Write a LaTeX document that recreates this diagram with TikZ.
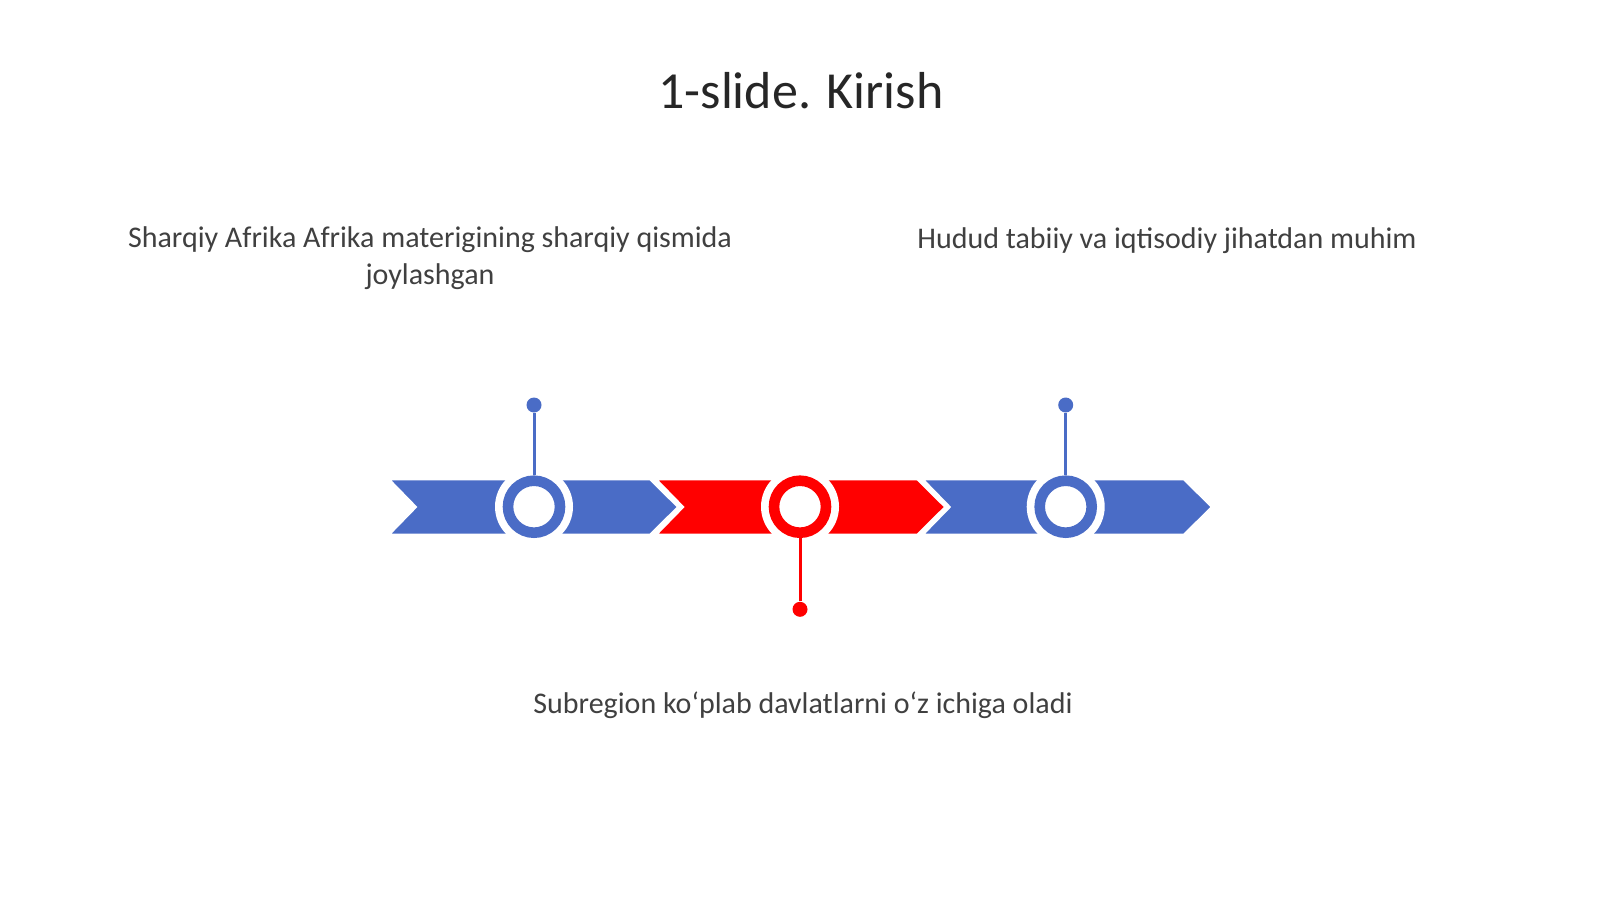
\documentclass[tikz,border=0pt]{standalone}
\usepackage{fontspec}
\setmainfont{Carlito}
\definecolor{tlblue}{RGB}{74,108,198}
\definecolor{tlred}{RGB}{255,0,0}
\definecolor{titlecol}{RGB}{38,38,38}
\definecolor{bodycol}{RGB}{64,64,64}
\begin{document}
\begin{tikzpicture}[x=0.5pt,y=-0.5pt,
  chev/.style={draw=white,line width=1pt},
  halo/.style={circle,fill=white,minimum size=39pt,inner sep=0pt},
  ring/.style={circle,fill=white,draw=#1,line width=5.3pt,minimum size=26pt,inner sep=0pt},
  dot/.style={circle,fill=#1,minimum size=7.5pt,inner sep=0pt},
  stem/.style={draw=#1,line width=1.5pt},
  body/.style={text=bodycol,font=\fontsize{15}{18.5}\selectfont,align=center}]
\useasboundingbox (0,0) rectangle (1600,899);
% chevrons
\foreach \x/\c in {389/tlblue,656.2/tlred,922.8/tlblue}{
  \filldraw[chev,fill=\c] (\x,479.3) -- ++(261,0) -- ++(28,27.7) -- ++(-28,27.7) -- ++(-261,0) -- ++(27,-27.7) -- cycle;
}
% halos and rings
\node[halo] (h1) at (534,506.7) {};
\node[halo] (h2) at (800,506.7) {};
\node[halo] (h3) at (1065.7,506.7) {};
\node[ring=tlblue] (r1) at (h1) {};
\node[ring=tlred] (r2) at (h2) {};
\node[ring=tlblue] (r3) at (h3) {};
% dots and stems
\node[dot=tlblue] (d1) at (534,405) {};
\node[dot=tlred] (d2) at (800,609.3) {};
\node[dot=tlblue] (d3) at (1065.7,405) {};
\draw[stem=tlblue] (d1) -- (r1.north);
\draw[stem=tlred] (d2) -- (r2.south);
\draw[stem=tlblue] (d3) -- (r3.north);
% texts
\node[text=titlecol,font=\fontsize{26}{31}\selectfont] (title) at (801,91) {1-slide. Kirish};
\node[body] (t1) at (430,258) {Sharqiy Afrika Afrika materigining sharqiy qismida\\joylashgan};
\node[body] (t2) at (1167,241) {Hudud tabiiy va iqtisodiy jihatdan muhim};
\node[body] (t3) at (803,705) {Subregion ko‘plab davlatlarni o‘z ichiga oladi};
\end{tikzpicture}
\end{document}
